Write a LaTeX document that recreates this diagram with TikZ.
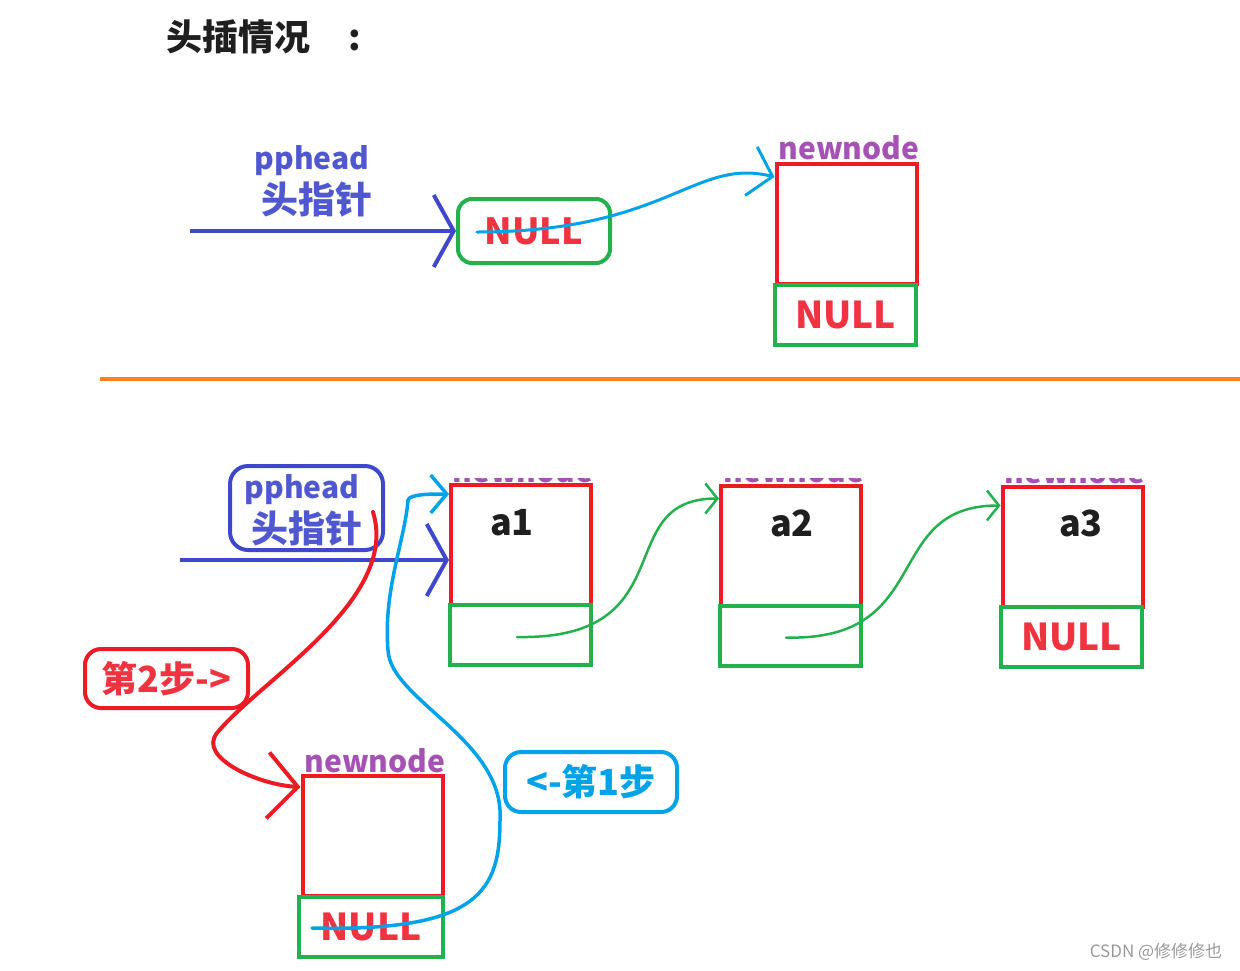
\documentclass[tikz,border=0pt]{standalone}
\usepackage{fontspec}
\setmainfont{Noto Sans CJK SC}
\usetikzlibrary{arrows.meta}

\definecolor{ptrblue}{HTML}{3F48CC}
\definecolor{textblue}{HTML}{5058D0}
\definecolor{boxred}{HTML}{ED1C24}
\definecolor{nullred}{HTML}{EF3340}
\definecolor{boxgreen}{HTML}{22B14C}
\definecolor{curveblue}{HTML}{00A2E8}
\definecolor{sepgold}{HTML}{FF7F27}
\definecolor{namepurple}{HTML}{A652B4}
\definecolor{marklight}{HTML}{999999}

\tikzset{
  titletext/.style={text=black!88, font=\fontsize{36}{40}\selectfont\bfseries},
  headtext/.style={text=textblue, font=\fontsize{30}{32}\selectfont\bfseries, inner sep=0pt},
  headcn/.style={text=textblue, font=\fontsize{37}{40}\selectfont\bfseries, inner sep=0pt},
  nodename/.style={text=namepurple, font=\fontsize{30}{32}\selectfont\bfseries, inner sep=0pt},
  valtext/.style={text=black!88, font=\fontsize{36}{40}\selectfont\bfseries, inner sep=0pt},
  databox/.style={draw=boxred, line width=4pt, minimum width=140pt, minimum height=120pt, inner sep=0pt},
  nextbox/.style={draw=boxgreen, line width=4pt, minimum width=141pt, minimum height=60pt, inner sep=0pt,
    text=nullred, font=\fontsize{37}{40}\selectfont\bfseries},
  nullbox/.style={draw=boxgreen, line width=4pt, rounded corners=14pt, minimum width=152pt, minimum height=64pt,
    inner sep=0pt, text=nullred, font=\fontsize{36}{38}\selectfont\bfseries},
  headbox/.style={draw=ptrblue, line width=4pt, rounded corners=18pt, minimum width=153pt, minimum height=84pt},
  steptwobox/.style={draw=boxred, line width=4pt, rounded corners=16pt, minimum width=163pt, minimum height=59pt,
    inner sep=0pt, text=nullred, font=\fontsize{36}{40}\selectfont\bfseries},
  steponebox/.style={draw=curveblue, line width=4pt, rounded corners=16pt, minimum width=172pt, minimum height=60pt,
    inner sep=0pt, text=curveblue, font=\fontsize{36}{40}\selectfont\bfseries},
  ptrline/.style={draw=ptrblue, line width=4pt, -{Straight Barb[length=20pt,width=72pt]}},
  sepline/.style={draw=sepgold, line width=4.5pt},
  linkline/.style={draw=boxgreen, line width=2.5pt, line cap=round, -{Straight Barb[length=12pt,width=30pt]}},
  stepone/.style={draw=curveblue, line width=3.5pt, line cap=round},
  steptwo/.style={draw=boxred, line width=4pt, line cap=round},
}

\begin{document}
\begin{tikzpicture}[x=1pt, y=-1pt]
  \useasboundingbox (0,0) rectangle (1240,970);

  % title
  \node[titletext] (title) at (264,37) {头插情况\hspace{38pt}:};

  % empty list
  \node[headtext] (top-name) at (312,161) {pphead};
  \node[headcn]   (top-cn)   at (317,200) {头指针};
  \node[nullbox]  (head-null) at (534,231) {NULL};
  \node[nodename] (top-label) at (849,148) {newnode};
  \node[databox]  (top-data) at (846.5,224) {};
  \node[nextbox]  (top-next) at (845.5,315) {NULL};

  \coordinate (top-start) at (190,231);
  \coordinate (top-tail)  at (477,232);
  \draw[ptrline] (top-start) -- (head-null.west);
  \draw[stepone, line width=3pt, -{Straight Barb[length=22pt,width=50pt]}]
    (top-tail) .. controls +(190,0) and +(-80,-20) .. ([yshift=47pt]top-data.west);

  % separator
  \coordinate (sep-left)  at (100,379);
  \coordinate (sep-right) at (1240,379);
  \draw[sepline] (sep-left) -- (sep-right);

  % list with nodes
  \node[headbox]  (head-box) at (306.5,508) {};
  \node[headtext] (bot-name) at (302,490) {pphead};
  \node[headcn]   (bot-cn)   at (307,529) {头指针};

  \begin{scope}
    \clip (440,478) rectangle (1150,486);
    \node[nodename] (a1-label) at (523,471) {newnode};
    \node[nodename] (a2-label) at (794,471) {newnode};
    \node[nodename] (a3-label) at (1075,472) {newnode};
  \end{scope}

  \node[databox] (a1-data) at (521,545) {};
  \node[nextbox] (a1-next) at (520,635) {};
  \node[valtext] (a1-val)  at (512,523) {a1};

  \node[databox] (a2-data) at (791,545.5) {};
  \node[nextbox] (a2-next) at (790,635.5) {};
  \node[valtext] (a2-val)  at (792,523) {a2};

  \node[databox] (a3-data) at (1072.5,546.5) {};
  \node[nextbox] (a3-next) at (1071.5,636.5) {NULL};
  \node[valtext] (a3-val)  at (1081,523) {a3};

  \node[nodename] (new-label) at (375,761) {newnode};
  \node[databox]  (new-data)  at (372.5,836) {};
  \node[nextbox, minimum width=144pt] (new-next) at (371,927) {NULL};

  \node[steptwobox] (step-two) at (166.5,678.5) {第2步->};
  \node[steponebox] (step-one) at (591,782) {<-第1步};

  \coordinate (bot-start) at (180,560);
  \draw[ptrline] (bot-start) -- (a1-data.west |- bot-start);

  % next pointers
  \draw[linkline] ([xshift=-3pt,yshift=-2pt]a1-next.center)
    .. controls +(170,3) and +(-110,0) .. ([yshift=47pt]a2-data.west);
  \draw[linkline] ([xshift=-4pt,yshift=-2pt]a2-next.center)
    .. controls +(150,4) and +(-120,0) .. ([yshift=41pt]a3-data.west);

  % step 1
  \coordinate (one-tail) at (312,928);
  \draw[stepone, -{Straight Barb[length=16pt,width=38pt]}] (one-tail)
    .. controls (480,932) and (500,890) .. (500,820)
    .. controls (505,740) and (390,700) .. (388,650)
    .. controls (383,590) and (405,540) .. (408,500)
    .. controls (410,494) and (430,494) .. ([yshift=51pt]a1-data.west);

  % step 2
  \coordinate (two-tail) at (373,512);
  \draw[steptwo, -{Straight Barb[length=30pt,width=66pt]}] (two-tail)
    .. controls (400,600) and (260,680) .. (217,733)
    .. controls (197,758) and (260,785) .. ([yshift=49pt]new-data.west);

  % watermark
  \node[text=marklight, font=\fontsize{17}{20}\selectfont] (mark) at (1156,952) {CSDN @修修修也};
\end{tikzpicture}
\end{document}
